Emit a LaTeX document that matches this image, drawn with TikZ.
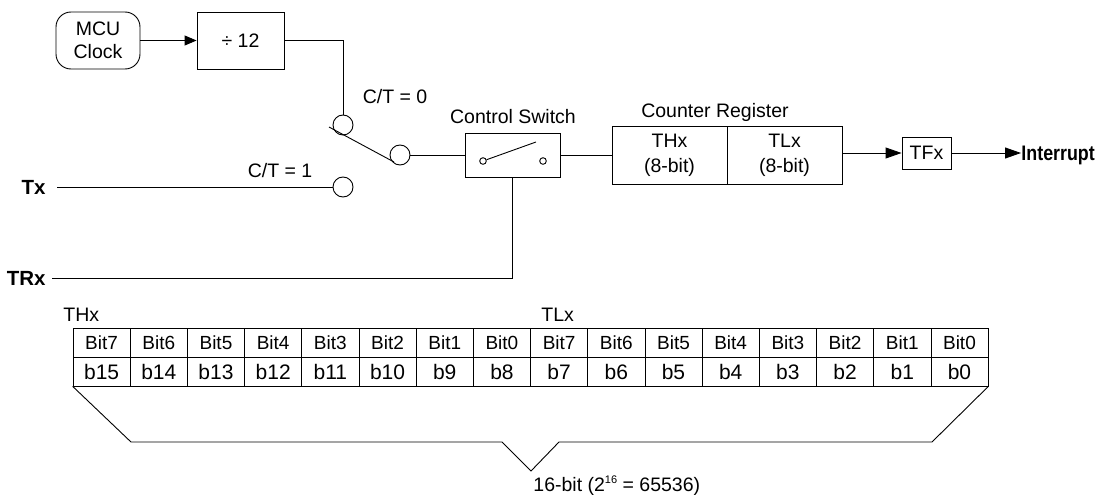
\documentclass[tikz,border=0pt]{standalone}
\usepackage{fontspec}
\setmainfont{Liberation Sans}
\newfontfamily\labelfont[FakeStretch=0.85]{Liberation Sans Bold}
\newfontfamily\inputfont{Liberation Sans Bold}
\usetikzlibrary{arrows.meta}
\begin{document}
\begin{tikzpicture}[x=1pt,y=-1pt, line width=0.9pt,
  txt/.style={font=\fontsize{19.5}{23}\selectfont, inner sep=0pt},
  blk/.style={draw, inner sep=0pt, txt},
  term/.style={draw, circle, minimum size=20pt, inner sep=0pt},
  pin/.style={draw, circle, minimum size=6.6pt, inner sep=0pt},
  sig/.style={font=\labelfont\fontsize{21}{23}\selectfont, inner sep=0pt},
  insig/.style={font=\inputfont\fontsize{20.5}{23}\selectfont, inner sep=0pt},
  arr/.style={-{Triangle[length=12pt,width=10pt]}},
  bigarr/.style={-{Triangle[length=16pt,width=11pt]}},
  bitcell/.style={draw, line width=0.7pt, minimum width=57.19pt, minimum height=29pt, inner sep=0pt, font=\fontsize{19}{21}\selectfont},
  bcell/.style={bitcell, font=\fontsize{21}{23}\selectfont},
]
\useasboundingbox (0,0) rectangle (1098,495);

% clock and divider
\node[blk, rounded corners=15pt, minimum width=84pt, minimum height=57pt, align=center] (mcu) at (98,40.5) {MCU\\Clock};
\node[blk, minimum width=87pt, minimum height=57pt] (div) at (240.5,40.5) {÷ 12};
\draw[arr] (mcu.east) -- (div.west);

% selector switch
\node[term] (ct0) at (343,125) {};
\node[term] (com) at (400,155) {};
\node[term] (ct1) at (343,187) {};
\draw (div.east) -| (ct0.north);
\coordinate (levA) at (329,127);
\coordinate (levB) at (394,162);
\draw (levA) -- (levB);
\node[txt] (lct0) at (395,97) {C/T = 0};
\node[txt] (lct1) at (280,171) {C/T = 1};

% inputs
\node[insig, anchor=base east] (tx) at (46,194.5) {Tx};
\node[insig, anchor=base east] (trx) at (46,285.5) {TRx};
\draw ([xshift=11pt]tx.east |- ct1.west) -- (ct1.west);

% control switch
\node[draw, minimum width=95pt, minimum height=44pt, inner sep=0pt] (sw) at (512.5,155) {};
\node[txt] (lsw) at (513,117) {Control Switch};
\node[pin] (p1) at (483,161) {};
\node[pin] (p2) at (543,161) {};
\coordinate (levC) at (536,142);
\draw (p1) -- (levC);
\draw ([xshift=6pt]trx.east |- 0,278) -| (sw.south);
\draw (com.east) -- (sw.west);

% counter register
\node[blk, minimum width=115pt, minimum height=58pt, align=center, font=\fontsize{19.5}{25}\selectfont] (thx) at (669.5,155) {THx\\(8-bit)};
\node[blk, minimum width=115pt, minimum height=58pt, align=center, font=\fontsize{19.5}{25}\selectfont] (tlx) at (784.5,155) {TLx\\(8-bit)};
\node[txt] (lreg) at (715,112) {Counter Register};
\draw (sw.east) -- (thx.west);

% overflow flag
\node[blk, minimum width=49pt, minimum height=32pt] (tfx) at (926.5,153) {TFx};
\draw[bigarr] (tlx.east |- tfx.west) -- (tfx.west);
\node[sig, anchor=base west] (int) at (1021,160.5) {Interrupt};
\draw[bigarr] (tfx.east) -- (tfx.east -| int.west);

% bit table
\node[txt, anchor=west] (lthx) at (63,315) {THx};
\node[txt, anchor=west] (ltlx) at (541,315) {TLx};
\foreach \i in {0,...,15} {
  \pgfmathtruncatemacro\hb{7-mod(\i,8)}
  \pgfmathtruncatemacro\bb{15-\i}
  \node[bitcell] (ta\i) at ({73+57.19*(\i+0.5)},342.5) {Bit\hb};
  \node[bcell] (tb\i) at ({73+57.19*(\i+0.5)},371.5) {b\bb};
}

% brace
\draw (tb0.south west) -- (131,442) -- (502,442) -- (531,471) -- (559,442) -- (932,442) -- (tb15.south east);
\node[txt, anchor=west] (lbit) at (533,486) {16-bit (2\raisebox{8pt}{\fontsize{11}{11}\selectfont 16} = 65536)};
\end{tikzpicture}
\end{document}
